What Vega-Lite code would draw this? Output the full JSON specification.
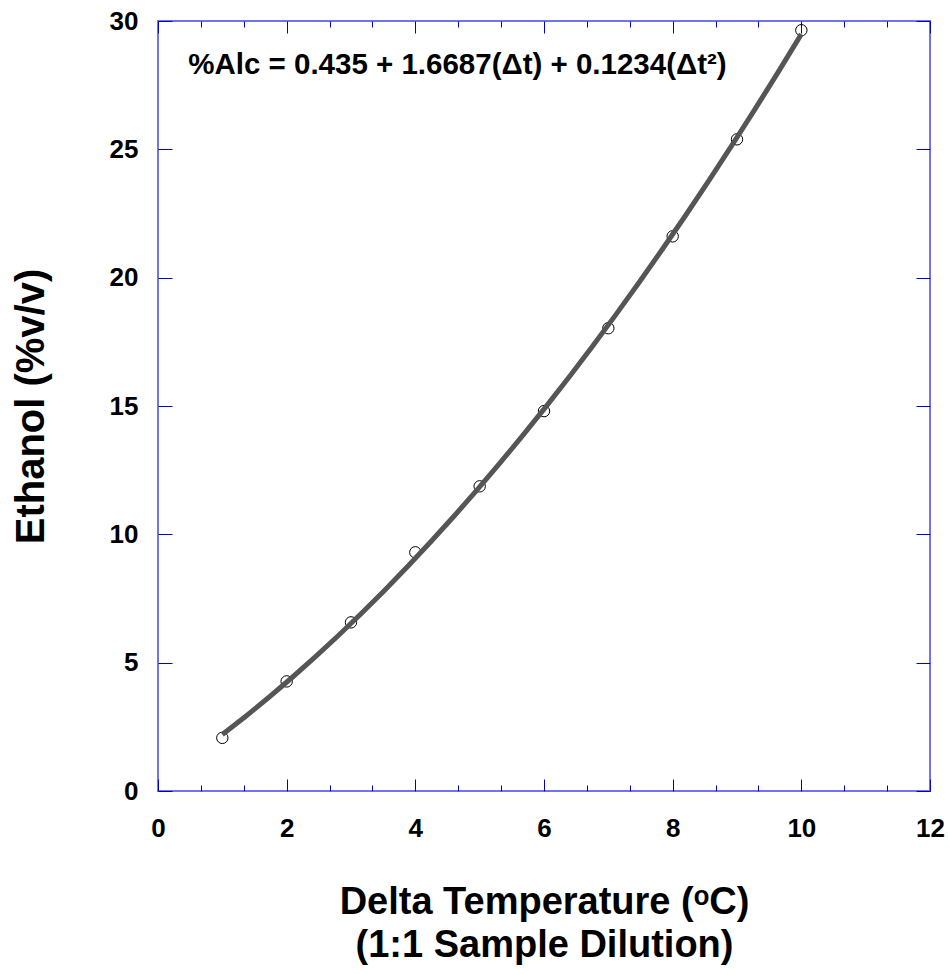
{
  "$schema": "https://vega.github.io/schema/vega-lite/v6.json",
  "width": 772,
  "height": 770,
  "autosize": {"type": "none"},
  "padding": {"left": 158, "top": 21, "right": 20, "bottom": 183},
  "background": "white",
  "config": {
    "view": {"stroke": "#7373ee", "strokeWidth": 2},
    "axis": {
      "domain": false,
      "grid": false,
      "tickColor": "#0000cc",
      "tickWidth": 1,
      "labelFont": "Liberation Sans",
      "labelFontWeight": "bold",
      "labelColor": "black",
      "labelFontSize": 26,
      "titleFont": "Liberation Sans",
      "titleFontWeight": "bold",
      "titleColor": "black"
    }
  },
  "data": {
    "values": [
      {"dt": 1, "alc": 2.07},
      {"dt": 2, "alc": 4.27},
      {"dt": 3, "alc": 6.57},
      {"dt": 4, "alc": 9.30},
      {"dt": 5, "alc": 11.87},
      {"dt": 6, "alc": 14.80},
      {"dt": 7, "alc": 18.03},
      {"dt": 8, "alc": 21.61},
      {"dt": 9, "alc": 25.39},
      {"dt": 10, "alc": 29.64}
    ]
  },
  "layer": [
    {
      "mark": {"type": "point", "shape": "circle", "filled": false, "color": "black", "strokeWidth": 1, "size": 130, "opacity": 1},
      "encoding": {
        "x": {
          "field": "dt", "type": "quantitative",
          "scale": {"domain": [0, 12], "nice": false, "zero": false},
          "axis": {
            "orient": "bottom",
            "values": [0, 0.6667, 1.3333, 2, 2.6667, 3.3333, 4, 4.6667, 5.3333, 6, 6.6667, 7.3333, 8, 8.6667, 9.3333, 10, 10.6667, 11.3333, 12],
            "tickSize": {"condition": {"test": "abs(datum.value/2 - round(datum.value/2)) < 0.01", "value": -12}, "value": -6},
            "labelExpr": "abs(datum.value/2 - round(datum.value/2)) < 0.01 ? format(datum.value, 'd') : ''",
            "labelPadding": 36,
            "labelFlush": false,
            "labelOverlap": false,
            "title": ["Delta Temperature (ᵒC)", "(1:1 Sample Dilution)"],
            "titleFontSize": 38,
            "titleLineHeight": 43,
            "titlePadding": 36
          }
        },
        "y": {
          "field": "alc", "type": "quantitative",
          "scale": {"domain": [0, 30], "nice": false},
          "axis": {
            "orient": "left",
            "values": [0, 5, 10, 15, 20, 25, 30],
            "tickSize": -14,
            "labelPadding": 34,
            "labelOverlap": false,
            "labelFlush": false,
            "title": "Ethanol (%v/v)",
            "titleFontSize": 40,
            "titlePadding": 58
          }
        }
      }
    },
    {
      "transform": [{"regression": "alc", "on": "dt", "method": "poly", "order": 2}],
      "mark": {"type": "line", "color": "#555555", "strokeWidth": 5},
      "encoding": {
        "x": {
          "field": "dt", "type": "quantitative",
          "axis": {
            "orient": "top",
            "values": [0, 0.6667, 1.3333, 2, 2.6667, 3.3333, 4, 4.6667, 5.3333, 6, 6.6667, 7.3333, 8, 8.6667, 9.3333, 10, 10.6667, 11.3333, 12],
            "tickSize": {"condition": {"test": "abs(datum.value/2 - round(datum.value/2)) < 0.01", "value": -12}, "value": -6},
            "labels": false,
            "title": null
          }
        },
        "y": {
          "field": "alc", "type": "quantitative",
          "axis": {
            "orient": "right",
            "values": [0, 5, 10, 15, 20, 25, 30],
            "tickSize": -14,
            "labels": false,
            "title": null
          }
        }
      }
    },
    {
      "data": {"values": [{"label": "%Alc = 0.435 + 1.6687(Δt) + 0.1234(Δt²)", "px": 0.47, "py": 28.3}]},
      "mark": {"type": "text", "align": "left", "baseline": "middle", "font": "Liberation Sans", "fontWeight": "bold", "fontSize": 29.5, "color": "black"},
      "encoding": {
        "x": {"field": "px", "type": "quantitative", "axis": null},
        "y": {"field": "py", "type": "quantitative", "axis": null},
        "text": {"field": "label"}
      }
    }
  ],
  "resolve": {"axis": {"x": "independent", "y": "independent"}}
}
